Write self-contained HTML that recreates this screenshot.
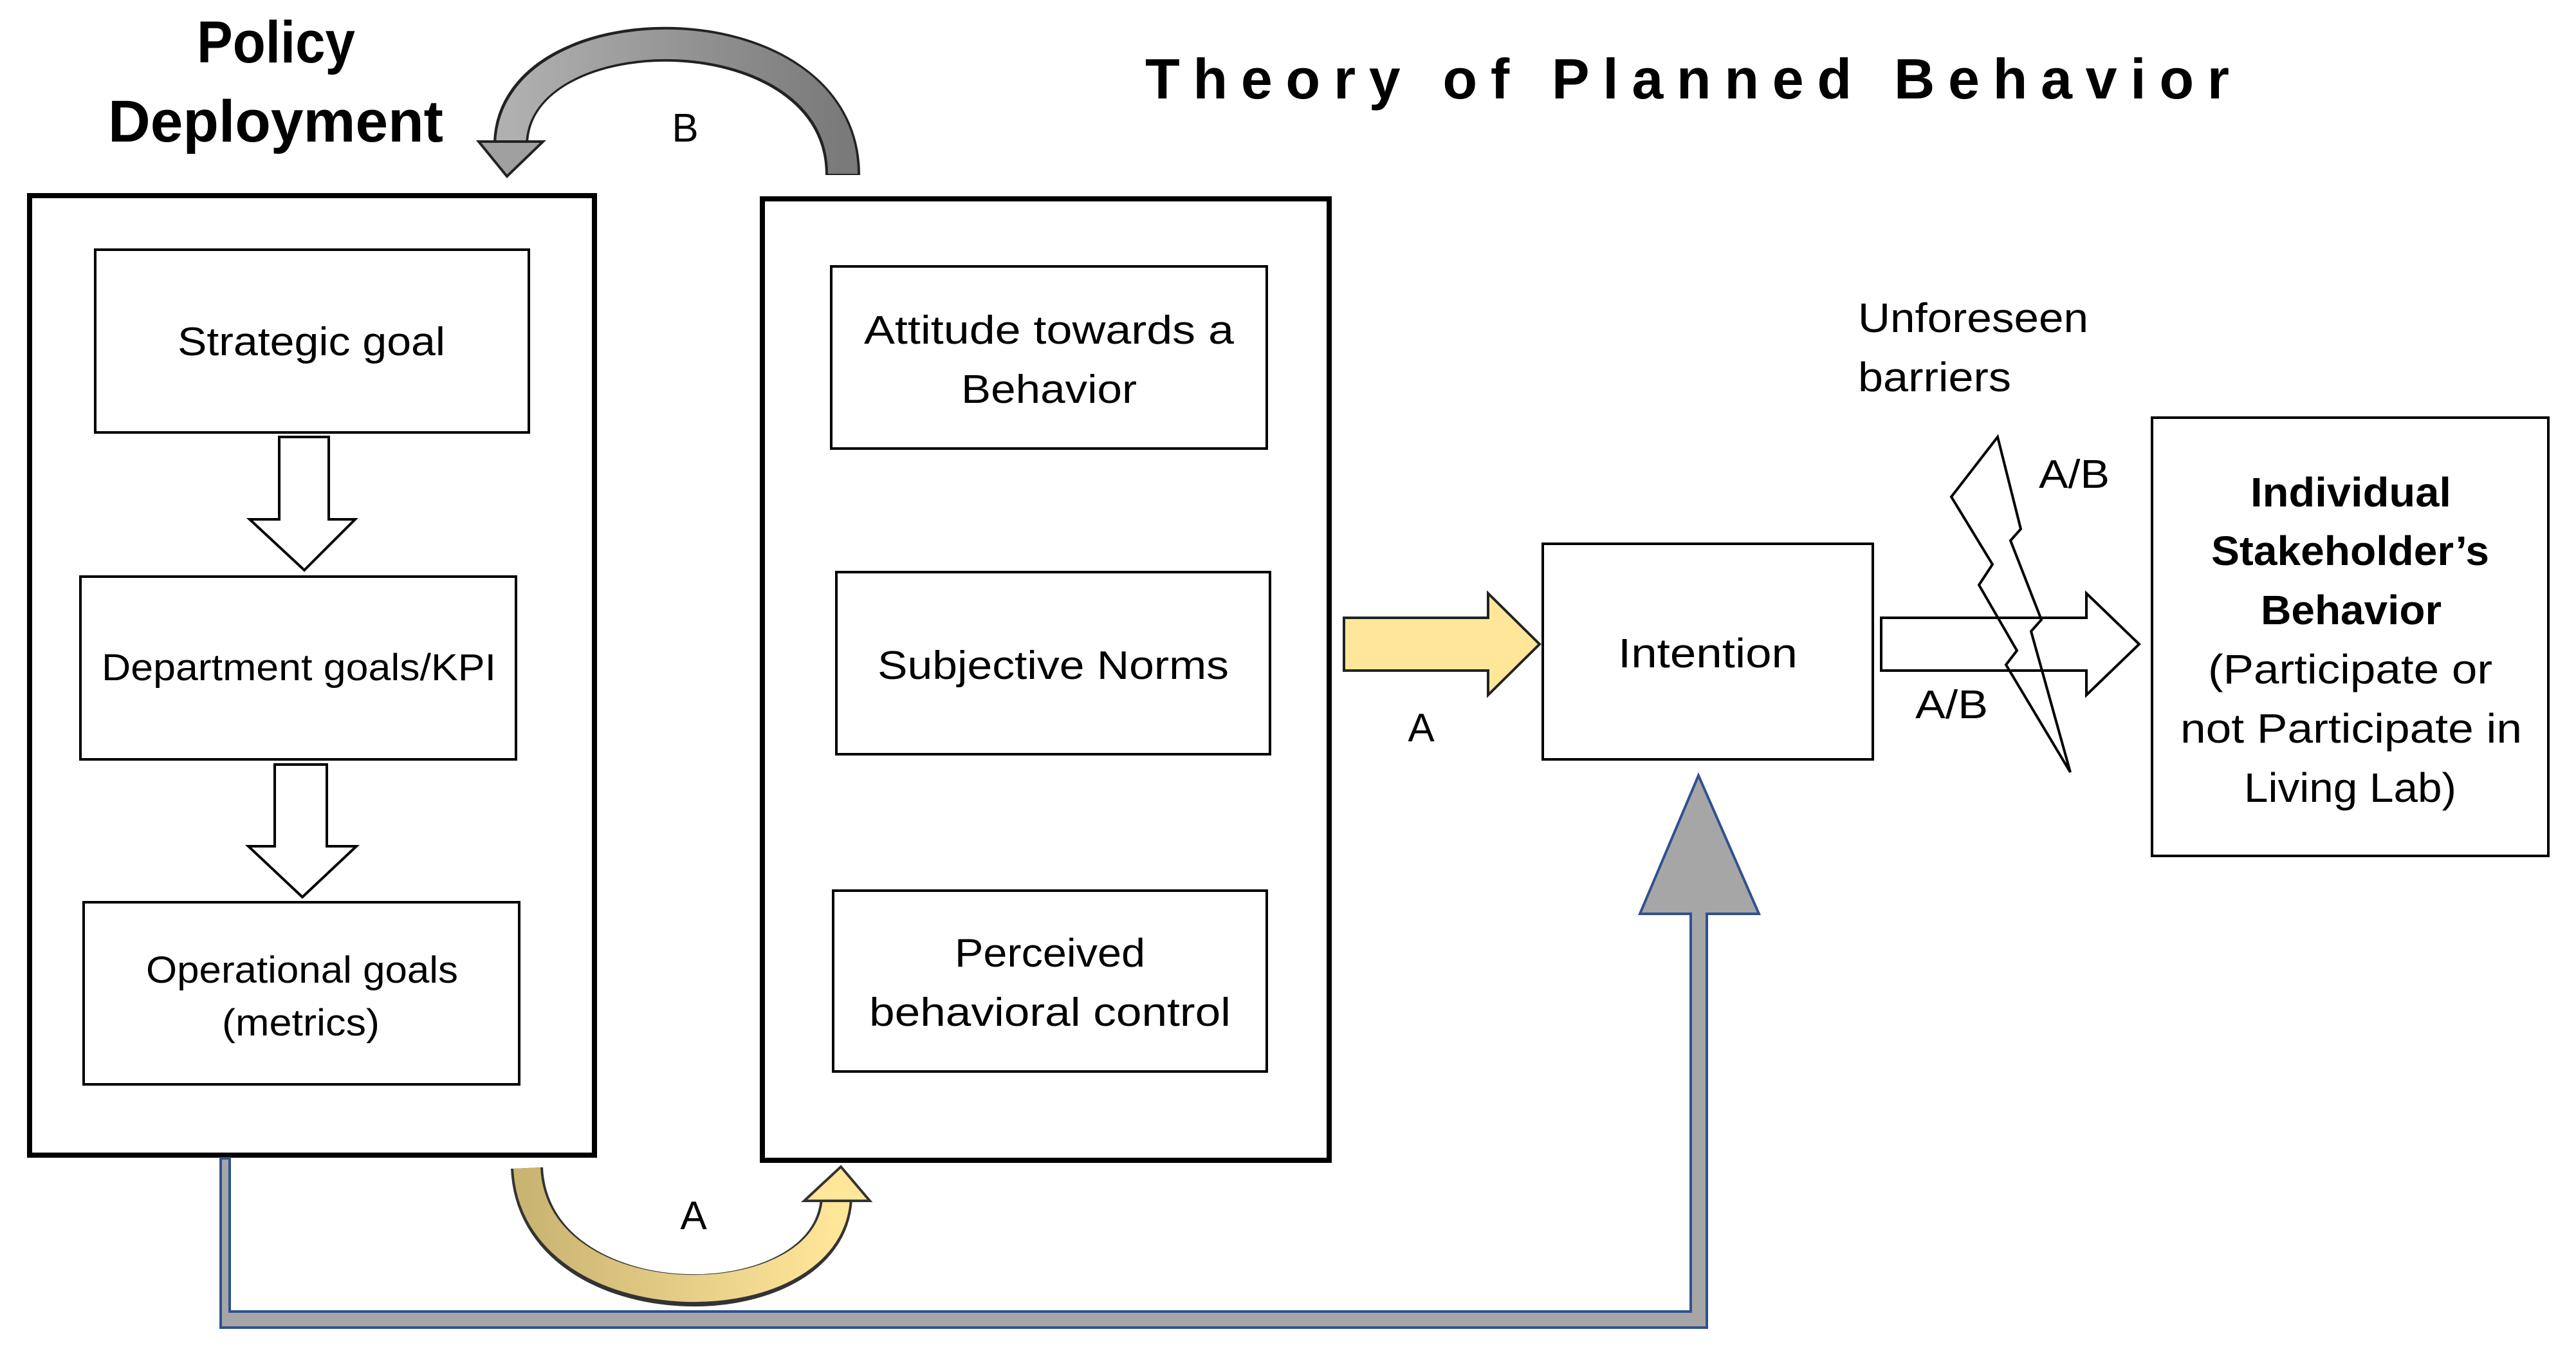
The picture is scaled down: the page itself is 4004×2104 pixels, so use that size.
<!DOCTYPE html>
<html><head><meta charset="utf-8"><style>
html,body{margin:0;padding:0;background:#fff;}
svg{display:block;}
text{font-family:"Liberation Sans",sans-serif;fill:#000;}
</style></head><body>
<svg width="4004" height="2104" viewBox="0 0 4004 2104" xmlns="http://www.w3.org/2000/svg">
<defs>
<linearGradient id="gb" x1="0" y1="0" x2="1" y2="0">
<stop offset="0" stop-color="#b0b0b0"/><stop offset="1" stop-color="#7a7a7a"/>
</linearGradient>
<linearGradient id="gy" x1="0" y1="0" x2="1" y2="0">
<stop offset="0" stop-color="#c9b472"/><stop offset="1" stop-color="#ffe699"/>
</linearGradient>
</defs>

<!-- Titles -->
<text x="306" y="97" font-size="92" font-weight="bold" textLength="246" lengthAdjust="spacingAndGlyphs">Policy</text>
<text x="168" y="220" font-size="92" font-weight="bold" textLength="521" lengthAdjust="spacingAndGlyphs">Deployment</text>
<text x="1780" y="153" font-size="88" font-weight="bold" textLength="1685" lengthAdjust="spacing">Theory of Planned Behavior</text>

<!-- Gray B arc -->
<path d="M1310 272 C1310 10, 800 10, 794 222" fill="none" stroke="#222" stroke-width="54"/>
<path d="M1310 270 C1310 10, 800 10, 794 224" fill="none" stroke="url(#gb)" stroke-width="46"/>
<polygon points="744,220 844,220 788,274" fill="#a0a0a0" stroke="#222" stroke-width="4"/>
<text x="1065" y="220" font-size="62" text-anchor="middle">B</text>

<!-- Left big box -->
<rect x="46" y="304" width="878" height="1491" fill="none" stroke="#000" stroke-width="8"/>
<rect x="148" y="388" width="674" height="284" fill="none" stroke="#000" stroke-width="4"/>
<text x="276" y="552" font-size="62" textLength="416" lengthAdjust="spacingAndGlyphs">Strategic goal</text>
<polygon points="434,679 511,679 511,807 552,807 473,886 388,807 434,807" fill="#fff" stroke="#000" stroke-width="4"/>
<rect x="125" y="896" width="677" height="284" fill="none" stroke="#000" stroke-width="4"/>
<text x="158" y="1057" font-size="58" textLength="613" lengthAdjust="spacingAndGlyphs">Department goals/KPI</text>
<polygon points="427,1188 508,1188 508,1315 554,1315 470,1394 386,1315 427,1315" fill="#fff" stroke="#000" stroke-width="4"/>
<rect x="130" y="1402" width="677" height="283" fill="none" stroke="#000" stroke-width="4"/>
<text x="227" y="1527" font-size="58" textLength="485" lengthAdjust="spacingAndGlyphs">Operational goals</text>
<text x="345" y="1609" font-size="58" textLength="245" lengthAdjust="spacingAndGlyphs">(metrics)</text>

<!-- Middle big box -->
<rect x="1185" y="309" width="881" height="1494" fill="none" stroke="#000" stroke-width="8"/>
<rect x="1292" y="414" width="677" height="283" fill="none" stroke="#000" stroke-width="4"/>
<text x="1343" y="534" font-size="62" textLength="575" lengthAdjust="spacingAndGlyphs">Attitude towards a</text>
<text x="1494" y="626" font-size="62" textLength="273" lengthAdjust="spacingAndGlyphs">Behavior</text>
<rect x="1300" y="889" width="674" height="283" fill="none" stroke="#000" stroke-width="4"/>
<text x="1364" y="1055" font-size="62" textLength="546" lengthAdjust="spacingAndGlyphs">Subjective Norms</text>
<rect x="1295" y="1384" width="674" height="281" fill="none" stroke="#000" stroke-width="4"/>
<text x="1484" y="1502" font-size="62" textLength="296" lengthAdjust="spacingAndGlyphs">Perceived</text>
<text x="1351" y="1594" font-size="62" textLength="562" lengthAdjust="spacingAndGlyphs">behavioral control</text>

<!-- Yellow A arc bottom -->
<path d="M819 1815 C830 2060, 1290 2060, 1300 1862" fill="none" stroke="#333" stroke-width="50"/>
<path d="M819 1815 C830 2056, 1290 2056, 1300 1862" fill="none" stroke="url(#gy)" stroke-width="42"/>
<polygon points="1250,1866 1352,1866 1307,1813" fill="#ffe699" stroke="#333" stroke-width="4"/>
<text x="1078" y="1910" font-size="62" text-anchor="middle">A</text>

<!-- Gray L arrow -->
<polygon points="343,1800 357,1800 357,2038 2628,2038 2628,1420 2549,1420 2640,1205 2734,1420 2653,1420 2653,2063 343,2063" fill="#a6a6a6" stroke="#2f528f" stroke-width="4"/>

<!-- Yellow arrow to Intention -->
<polygon points="2089,960 2313,960 2313,922 2393,1001 2313,1080 2313,1042 2089,1042" fill="#ffe699" stroke="#222" stroke-width="4"/>
<text x="2209" y="1152" font-size="62" text-anchor="middle">A</text>

<!-- Intention -->
<rect x="2398" y="845" width="513" height="335" fill="none" stroke="#000" stroke-width="4"/>
<text x="2515" y="1037" font-size="64" textLength="279" lengthAdjust="spacingAndGlyphs">Intention</text>

<!-- White arrow -->
<polygon points="2924,960 3243,960 3243,922 3325,1001 3243,1080 3243,1042 2924,1042" fill="#fff" stroke="#000" stroke-width="4"/>
<text x="2977" y="1116" font-size="62" textLength="113" lengthAdjust="spacingAndGlyphs">A/B</text>

<!-- Lightning -->
<polygon points="3105,679 3033,772 3097,877 3076,909 3135,1011 3118,1033 3218,1200 3157,981 3173,963 3125,840 3141,822" fill="none" stroke="#000" stroke-width="4" stroke-linejoin="miter"/>
<text x="3169" y="758" font-size="62" textLength="110" lengthAdjust="spacingAndGlyphs">A/B</text>
<text x="2888" y="516" font-size="64" textLength="358" lengthAdjust="spacingAndGlyphs">Unforeseen</text>
<text x="2888" y="608" font-size="64" textLength="238" lengthAdjust="spacingAndGlyphs">barriers</text>

<!-- Individual box -->
<rect x="3345" y="649" width="616" height="681" fill="none" stroke="#000" stroke-width="4"/>
<text x="3498" y="787" font-size="64" font-weight="bold" textLength="312" lengthAdjust="spacingAndGlyphs">Individual</text>
<text x="3437" y="878" font-size="64" font-weight="bold" textLength="432" lengthAdjust="spacingAndGlyphs">Stakeholder’s</text>
<text x="3514" y="970" font-size="64" font-weight="bold" textLength="281" lengthAdjust="spacingAndGlyphs">Behavior</text>
<text x="3432" y="1062" font-size="64" textLength="442" lengthAdjust="spacingAndGlyphs">(Participate or</text>
<text x="3389" y="1154" font-size="64" textLength="531" lengthAdjust="spacingAndGlyphs">not Participate in</text>
<text x="3488" y="1246" font-size="64" textLength="330" lengthAdjust="spacingAndGlyphs">Living Lab)</text>
</svg>
</body></html>
